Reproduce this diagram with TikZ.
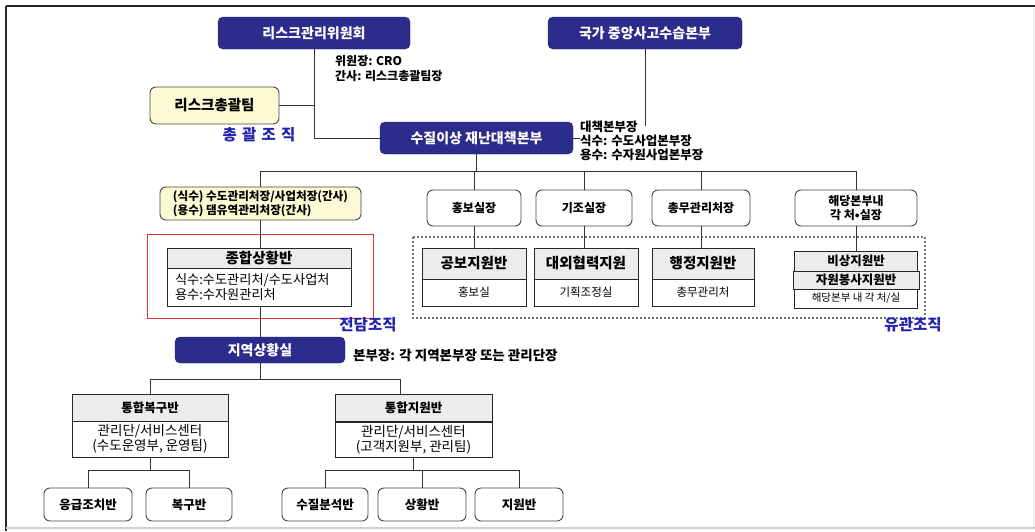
\documentclass[tikz,border=0pt]{standalone}
\usepackage{fontspec}
\setmainfont{Noto Sans CJK KR}
\definecolor{navy}{RGB}{44,44,140}
\definecolor{navyb}{RGB}{28,28,95}
\definecolor{cream}{RGB}{252,250,212}
\definecolor{hdr}{RGB}{238,235,235}
\definecolor{lblue}{RGB}{35,35,175}
\definecolor{redline}{RGB}{225,50,50}
\definecolor{edge}{RGB}{70,70,70}
\newcommand{\fs}[1]{\fontsize{#1}{#1}\selectfont}
\tikzset{
  bluebox/.style={draw=navyb, fill=navy, rounded corners=5pt, text=white, font=\bfseries\fs{14}, inner sep=0pt},
  creambox/.style={draw=edge, fill=cream, rounded corners=6pt, inner sep=0pt, line width=0.9pt},
  whitebox/.style={draw=edge, fill=white, rounded corners=6pt, inner sep=0pt, line width=0.9pt, font=\bfseries\fs{12.5}},
  hdrbox/.style={draw=black!85, fill=hdr, inner sep=0pt, line width=0.9pt, font=\bfseries\fs{14.5}},
  bodybox/.style={draw=black!85, fill=white, inner sep=0pt, line width=0.9pt},
  conn/.style={draw=black!80, line width=0.9pt},
  bluelabel/.style={text=lblue, font=\bfseries\fs{15.5}, inner sep=0pt},
  note/.style={font=\bfseries\fs{12.5}, align=left, inner sep=0pt}
}
\begin{document}
\begin{tikzpicture}[x=1pt,y=-1pt]
\useasboundingbox (0,0) rectangle (1035,531);
\fill[white] (0,0) rectangle (1035,531);
% frame
\draw[black!85, line width=1.6pt] (6,6) -- (1035,6);
\draw[black!85, line width=1.6pt] (6,6) -- (6,531);
\draw[black!18, line width=1.5pt] (6,528) -- (1035,528);
\draw[black!8] (1033,8) -- (1033,527);

% top level
\node[bluebox, minimum width=192, minimum height=32] (rc) at (314,33) {리스크관리위원회};
\node[bluebox, minimum width=194, minimum height=32] (nat) at (645,33) {국가 중앙사고수습본부};
\node[note, font=\bfseries\fs{12}, anchor=north west, align=left] (rcnote) at (335,55) {위원장: CRO\\[3pt]간사: 리스크총괄팀장};
\node[creambox, minimum width=129, minimum height=37, font=\bfseries\fs{14.5}] (team) at (214.5,105.5) {리스크총괄팀};
\node[bluelabel] (lab1) at (259,135) {총\,\,괄\,\,조\,\,직};
\node[bluebox, minimum width=193, minimum height=32] (sj) at (476.5,138) {수질이상 재난대책본부};
\node[note, anchor=north west] (sjnote) at (580,121) {대책본부장\\[1.5pt]식수: 수도사업본부장\\[1.5pt]용수: 수자원사업본부장};
\coordinate (natend) at (645,126);
\draw[conn] (rc.south) |- (sj.west);
\draw[conn] (team.east) -- (team.east -| rc.south);
\draw[conn] (nat.south) -- (natend);
\draw[conn] (sj.east) -- (sj.east -| sjnote.west);

% bus
\coordinate (bus) at (476.5,171);
\node[creambox, minimum width=201, minimum height=33, font=\bfseries\fs{11.6}, align=left] (yb) at (260.5,203.5) {(식수) 수도관리처장/사업처장(간사)\\[1pt](용수) 댐유역관리처장(간사)};
\node[creambox, fill=white, minimum width=94, minimum height=36, font=\bfseries\fs{12}] (hong) at (474,208) {홍보실장};
\node[creambox, fill=white, minimum width=96, minimum height=36, font=\bfseries\fs{12}] (gijo) at (584,208) {기조실장};
\node[creambox, fill=white, minimum width=98, minimum height=36, font=\bfseries\fs{12}] (chong) at (701,208) {총무관리처장};
\node[creambox, fill=white, minimum width=122, minimum height=36, font=\bfseries\fs{12}, align=center] (hd4) at (856,208) {해당본부내\\[2pt]각 처•실장};
\draw[conn] (sj.south) -- (bus);
\draw[conn] (yb.north) -- (yb.north |- bus) -- (hd4.north |- bus) -- (hd4.north);
\draw[conn] (hong.north) -- (hong.north |- bus);
\draw[conn] (gijo.north) -- (gijo.north |- bus);
\draw[conn] (chong.north) -- (chong.north |- bus);

% related organisation (dotted)
\draw[black!55, line width=1.8pt, dash pattern=on 1.6pt off 2.4pt] (413,237) rectangle (925,318);
\node[hdrbox, minimum width=104, minimum height=31] (pbh) at (474,263.5) {공보지원반};
\node[bodybox, minimum width=104, minimum height=27, font=\fs{11.5}] (pbb) at (474,292.5) {홍보실};
\node[hdrbox, minimum width=104, minimum height=31] (dwh) at (586,263.5) {대외협력지원};
\node[bodybox, minimum width=104, minimum height=27, font=\fs{11.5}] (dwb) at (586,292.5) {기획조정실};
\node[hdrbox, minimum width=102, minimum height=31] (hjh) at (703,263.5) {행정지원반};
\node[bodybox, minimum width=102, minimum height=27, font=\fs{11.5}] (hjb) at (703,292.5) {총무관리처};
\node[hdrbox, minimum width=123, minimum height=20, font=\bfseries\fs{12.5}] (bsh) at (856,261) {비상지원반};
\node[hdrbox, minimum width=126, minimum height=18, font=\bfseries\fs{12.5}] (jwh) at (856,280) {자원봉사지원반};
\node[bodybox, minimum width=123, minimum height=19, font=\fs{10.5}] (hbb) at (856,298.5) {해당본부 내 각 처/실};
\draw[conn] (hong.south) -- (pbh.north);
\draw[conn] (gijo.south) -- (gijo.south |- dwh.north);
\draw[conn] (chong.south) -- (chong.south |- hjh.north);
\draw[conn] (hd4.south) -- (bsh.north);
\node[bluelabel] (lab3) at (913,325) {유관조직};

% dedicated organisation (red)
\draw[redline, line width=0.8pt] (147,234) rectangle (373,318);
\node[hdrbox, minimum width=184, minimum height=20] (ovh) at (259,258) {종합상황반};
\node[bodybox, minimum width=184, minimum height=38, font=\fs{13.2}, align=left, text width=168] (ovb) at (259,287) {식수:수도관리처/수도사업처\\[0pt]용수:수자원관리처};
\node[bluelabel] (lab2) at (368,325) {전담조직};
\draw[conn] (yb.south) -- (yb.south |- ovh.north);

% regional
\node[bluebox, minimum width=170, minimum height=26] (reg) at (260,350) {지역상황실};
\node[note, font=\bfseries\fs{13.5}, anchor=west] (regnote) at (353,355) {본부장: 각 지역본부장 또는 관리단장};
\draw[conn] (ovb.south) -- (ovb.south -| reg.north) -- (reg.north);

\node[hdrbox, minimum width=156, minimum height=27, font=\bfseries\fs{12.5}] (rech) at (150,407.5) {통합복구반};
\node[bodybox, minimum width=156, minimum height=36, font=\fs{13.5}, align=center] (recb) at (150,439) {관리단/서비스센터\\[0pt](수도운영부, 운영팀)};
\node[hdrbox, minimum width=157, minimum height=27, font=\bfseries\fs{12.5}] (suph) at (413.5,408) {통합지원반};
\node[bodybox, minimum width=157, minimum height=35, font=\fs{13.5}, align=center] (supb) at (413.5,439.5) {관리단/서비스센터\\[0pt](고객지원부, 관리팀)};
\coordinate (j2) at (400,379);
\draw[conn] (reg.south) -- (reg.south |- j2);
\draw[conn] (rech.north) |- (j2) -- (j2 |- suph.north);

% bottom teams
\node[whitebox, minimum width=88, minimum height=33] (eg) at (88,504.5) {응급조치반};
\node[whitebox, minimum width=86, minimum height=33] (bg) at (189,504.5) {복구반};
\node[whitebox, minimum width=86, minimum height=33] (sq) at (325,504.5) {수질분석반};
\node[whitebox, minimum width=88, minimum height=33] (sh) at (422,504.5) {상황반};
\node[whitebox, minimum width=88, minimum height=33] (jw2) at (519,504.5) {지원반};
\coordinate (j3) at (150,470);
\coordinate (j4) at (413.5,470);
\draw[conn] (recb.south) -- (j3);
\draw[conn] (eg.north) |- (j3) -| (bg.north);
\draw[conn] (supb.south) -- (j4);
\draw[conn] (sq.north) |- (j4) -| (jw2.north);
\draw[conn] (sh.north) -- (sh.north |- j4);
\end{tikzpicture}
\end{document}
